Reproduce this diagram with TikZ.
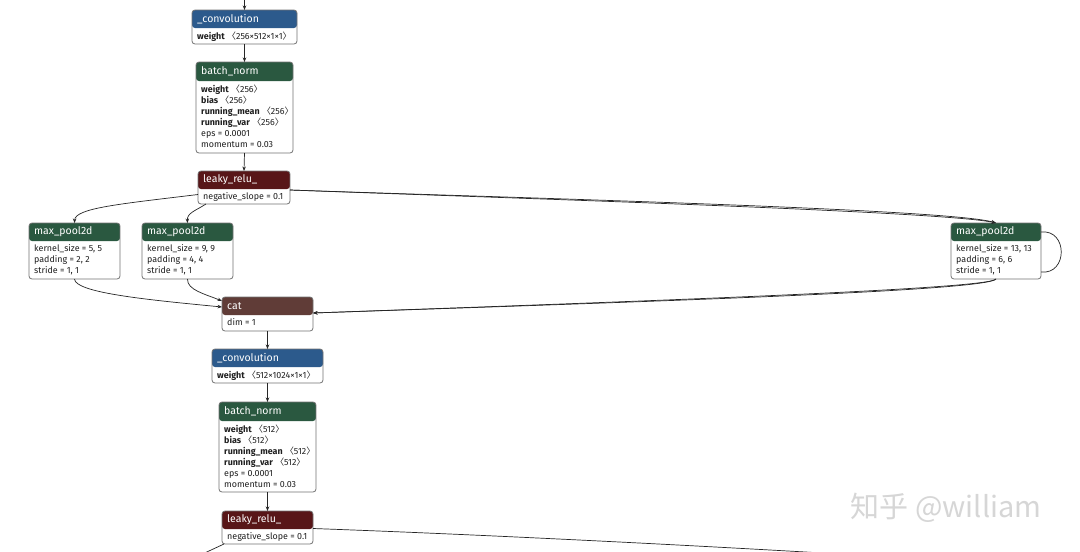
\documentclass[tikz,border=0pt]{standalone}
\usepackage{fontspec}
\setmainfont{Fira Sans}
\newfontfamily\cjkfont{Noto Sans CJK SC}
\usetikzlibrary{arrows.meta}
\definecolor{convblue}{RGB}{44,90,140}
\definecolor{bngreen}{RGB}{42,88,64}
\definecolor{relured}{RGB}{88,22,24}
\definecolor{catbrown}{RGB}{96,60,55}
\newcommand\br[1]{{\cjkfont 〈}#1{\cjkfont 〉}}
\tikzset{
  opframe/.style={draw=black!55, line width=0.8pt, rounded corners=3pt, fill=white, inner sep=0pt, outer sep=0pt},
  hdr/.style={text=white, font=\fontsize{10.5}{12}\selectfont, inner sep=0pt},
  bdy/.style={text=black!88, font=\fontsize{8.9}{11}\selectfont, align=left, inner sep=0pt},
  edge/.style={draw=black!85, line width=0.7pt, -{Stealth[length=4.5pt,width=3.5pt]}},
  edgeline/.style={draw=black!85, line width=0.7pt},
}
\newcommand\opbox[9]{%
  \node[opframe, minimum width=#4pt, minimum height=#5pt, anchor=north west,
    path picture={\fill[#7] (path picture bounding box.north west) rectangle ([yshift=-#6pt]path picture bounding box.north east);}] (#1) at (#2,#3) {};
  \node[hdr, anchor=west] (#1-t) at ([xshift=5pt,yshift=-#6pt/2]#1.north west) {#8};
  \node[bdy, anchor=north west] (#1-b) at ([xshift=5pt,yshift=-#6pt-3.5pt]#1.north west) {#9};
}
\begin{document}
\begin{tikzpicture}[x=1pt,y=-1pt]
\useasboundingbox (0,0) rectangle (1080,552);
\fill[white] (0,0) rectangle (1080,552);
\clip (0,0) rectangle (1080,552);

\node[text=black!16, font=\cjkfont\fontsize{29}{32}\selectfont] (wm) at (946,508) {知乎 @william};

\opbox{conv1}{192}{10}{105}{34}{18}{convblue}{\_convolution}{\textbf{weight} \br{256×512×1×1}}
\opbox{bn1}{196}{62}{97}{91}{19}{bngreen}{batch\_norm}{\textbf{weight} \br{256}\\ \textbf{bias} \br{256}\\ \textbf{running\_mean} \br{256}\\ \textbf{running\_var} \br{256}\\ eps = 0.0001\\ momentum = 0.03}
\opbox{lr1}{198}{171}{92}{33}{18}{relured}{leaky\_relu\_}{negative\_slope = 0.1}
\opbox{mpL}{29}{223}{91}{56}{18}{bngreen}{max\_pool2d}{kernel\_size = 5, 5\\ padding = 2, 2\\ stride = 1, 1}
\opbox{mpM}{142}{223}{91}{56}{18}{bngreen}{max\_pool2d}{kernel\_size = 9, 9\\ padding = 4, 4\\ stride = 1, 1}
\opbox{mpR}{951}{223}{90}{56}{18}{bngreen}{max\_pool2d}{kernel\_size = 13, 13\\ padding = 6, 6\\ stride = 1, 1}
\opbox{cat}{222}{297}{91}{34}{18}{catbrown}{cat}{dim = 1}
\opbox{conv2}{212}{349}{111}{34}{18}{convblue}{\_convolution}{\textbf{weight} \br{512×1024×1×1}}
\opbox{bn2}{219}{402}{97}{90}{19}{bngreen}{batch\_norm}{\textbf{weight} \br{512}\\ \textbf{bias} \br{512}\\ \textbf{running\_mean} \br{512}\\ \textbf{running\_var} \br{512}\\ eps = 0.0001\\ momentum = 0.03}
\opbox{lr2}{222}{511}{91}{33}{18}{relured}{leaky\_relu\_}{negative\_slope = 0.1}

\coordinate (top) at (244.5,-5);
\coordinate (offL) at (196,557);
\coordinate (offR) at (890,557);

\draw[edge] (top) -- (conv1.north);
\draw[edge] (conv1.south) -- (bn1.north);
\draw[edge] (bn1.south) -- (lr1.north);

\draw[edge] ([yshift=-7pt]lr1.west) .. controls (120,204) and (75,208) .. (mpL.north);
\draw[edge] ([xshift=8pt]lr1.south west) .. controls (195,211) and (187,213) .. (mpM.north);
\draw[edge] ([yshift=-2.5pt]lr1.east) .. controls (520,198) and (950,209) .. (mpR.north);
\draw[edge] ([yshift=-2.5pt]lr1.east) .. controls (520,198.5) and (945,211.5) .. (mpR.north);
\draw[edgeline] ([yshift=-9pt]mpR.north east) .. controls (1068,229) and (1068,275) .. ([yshift=7pt]mpR.south east);

\draw[edge] (mpL.south) .. controls (75,293) and (150,300) .. ([yshift=7pt]cat.west);
\draw[edge] (mpM.south) .. controls (187,290) and (205,294) .. ([yshift=13pt]cat.west);
\draw[edge] (mpR.south) .. controls (990,289) and (650,301) .. ([yshift=1pt]cat.east);
\draw[edge] (mpR.south) .. controls (987,291) and (650,301.5) .. ([yshift=1pt]cat.east);

\draw[edge] (cat.south) -- (conv2.north);
\draw[edge] (conv2.south) -- (bn2.north);
\draw[edge] (bn2.south) -- (lr2.north);

\draw[edgeline] ([xshift=2pt]lr2.south west) -- (offL);
\draw[edgeline] ([yshift=-1pt]lr2.east) .. controls (520,536) and (760,549) .. (offR);
\end{tikzpicture}
\end{document}
